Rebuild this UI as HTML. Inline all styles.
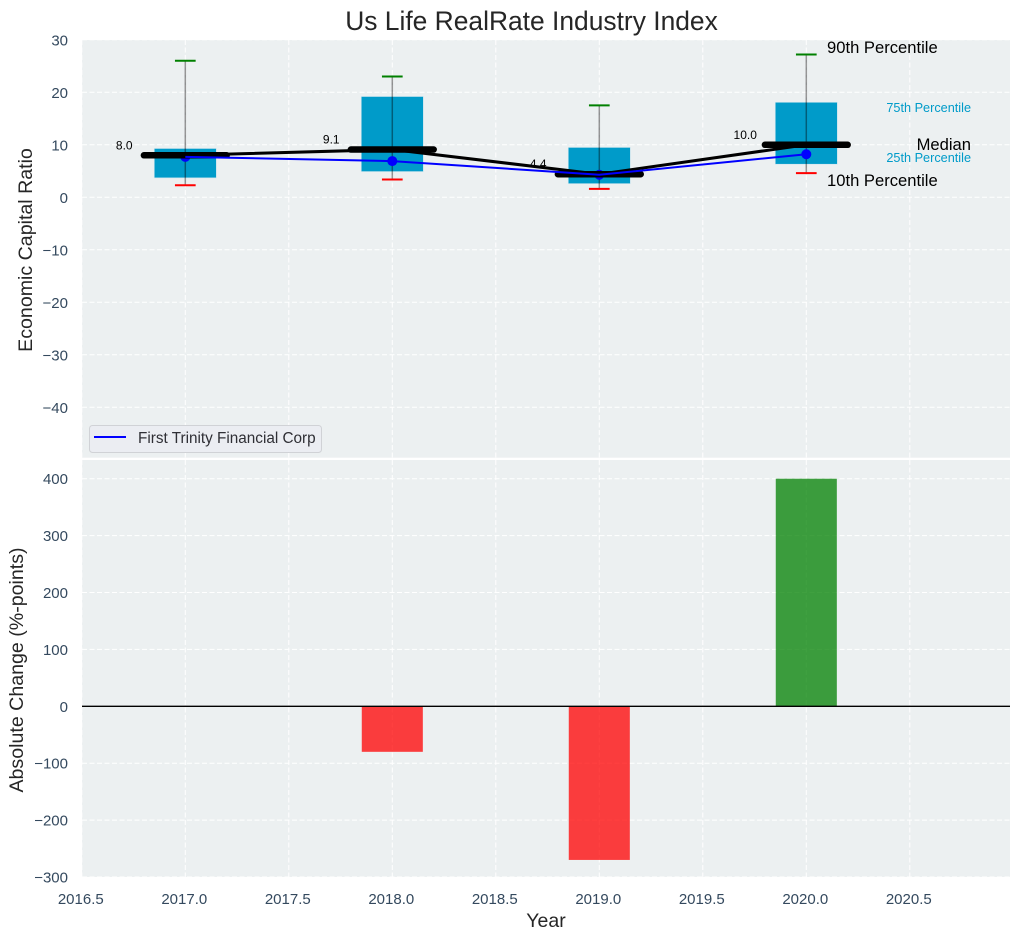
<!DOCTYPE html>
<html>
<head>
<meta charset="utf-8">
<title>Us Life RealRate Industry Index</title>
<style>
html,body{margin:0;padding:0;background:#fff;width:1021px;height:940px;overflow:hidden}
svg{display:block;font-family:"Liberation Sans",sans-serif}
</style>
</head>
<body>
<svg id="chart" xmlns="http://www.w3.org/2000/svg" width="1021" height="940" viewBox="0 0 1021 940"></svg>
<script>
const years = [2017, 2018, 2019, 2020];
const p90 = [26, 23, 17.5, 27.2];
const p75 = [9.3, 19.2, 9.5, 18.1];
const medians = [8.0, 9.1, 4.4, 10.0];
const p25 = [3.7, 4.9, 2.6, 6.3];
const p10 = [2.3, 3.4, 1.6, 4.6];
const company = [7.7, 6.9, 4.3, 8.2];
const changes = [0, -80, -270, 400];
const medianLabels = ['8.0', '9.1', '4.4', '10.0'];
const xTicks = [2016.5, 2017, 2017.5, 2018, 2018.5, 2019, 2019.5, 2020, 2020.5];
const xTickLabels = ['2016.5', '2017.0', '2017.5', '2018.0', '2018.5', '2019.0', '2019.5', '2020.0', '2020.5'];
const topTicks = [30, 20, 10, 0, -10, -20, -30, -40];
const bottomTicks = [400, 300, 200, 100, 0, -100, -200, -300];

const svg = document.getElementById('chart');
const NS = 'http://www.w3.org/2000/svg';
const L = 82, R = 1010, T1 = 40, B1 = 457.7, T2 = 460, B2 = 877;
const x = v => 185.3 + (v - 2017) * 207;
const y1 = v => 197.3 - v * 5.25;
const y2 = v => 706.3 - v * 0.569;
const minus = v => String(v).replace('-', '\u2212');

function make(tag, attrs, text) {
  const el = document.createElementNS(NS, tag);
  for (const k in attrs) el.setAttribute(k, attrs[k]);
  if (text !== undefined) el.textContent = text;
  svg.appendChild(el);
  return el;
}
function label(name, px, py, str, size, fill, anchor, extra) {
  const el = make('text', Object.assign({x: px, y: py, 'font-size': size, fill: fill, 'text-anchor': anchor || 'start'}, extra || {}), str);
  
  
  return el;
}
function line(name, a, b, c, d, stroke, width, extra) {
  const el = make('line', Object.assign({x1: a, y1: b, x2: c, y2: d, stroke: stroke, 'stroke-width': width}, extra || {}));
  
  
  return el;
}
function rect(name, a, b, w, h, fill, extra) {
  const el = make('rect', Object.assign({x: a, y: b, width: w, height: h, fill: fill}, extra || {}));
  
  
  return el;
}

const GRID = {'stroke-dasharray': '5 2.5'};
const TICK = '#34495e';

/* panels */
rect('top-panel-background', L, T1, R - L, B1 - T1, '#ecf0f1');
rect('bottom-panel-background', L, T2, R - L, B2 - T2, '#ecf0f1');

/* grid */
xTicks.forEach(t => {
  line('top-x-gridline', x(t), T1, x(t), B1, '#fff', 1, GRID);
  line('bottom-x-gridline', x(t), T2, x(t), B2, '#fff', 1, GRID);
});
topTicks.forEach(t => line('top-y-gridline', L, y1(t), R, y1(t), '#fff', 1, GRID));
bottomTicks.forEach(t => line('bottom-y-gridline', L, y2(t), R, y2(t), '#fff', 1, GRID));

/* tick labels */
topTicks.forEach(t => label('top-y-tick-label', 68, y1(t) + 5.5, minus(t), 15, TICK, 'end'));
bottomTicks.forEach(t => label('bottom-y-tick-label', 68, y2(t) + 5.5, minus(t), 15, TICK, 'end'));
xTicks.forEach((t, i) => label('x-tick-label', x(t) - 1, 904, xTickLabels[i], 15, TICK, 'middle'));

/* boxes */
years.forEach((yr, i) => {
  const bw = 0.3;
  rect('iqr-box-' + yr, x(yr - bw / 2), y1(p75[i]), bw * 207, y1(p25[i]) - y1(p75[i]), '#009bc9', {stroke: '#cfe6ee', 'stroke-width': 0.6});
  line('whisker-' + yr, x(yr), y1(p90[i]), x(yr), y1(p10[i]), '#000', 1.5, {opacity: 0.4});
  line('p90-cap-' + yr, x(yr - 0.05), y1(p90[i]), x(yr + 0.05), y1(p90[i]), '#008000', 2);
  line('p10-cap-' + yr, x(yr - 0.05), y1(p10[i]), x(yr + 0.05), y1(p10[i]), '#ff0000', 2);
});

/* company markers sit beneath the median bars */
years.forEach((yr, i) => {
  const c = make('circle', {cx: x(yr), cy: y1(company[i]), r: 5, fill: '#0000ff'});
  
  
});

/* median trend */
const medianPath = make('polyline', {
  points: years.map((yr, i) => x(yr) + ',' + y1(medians[i])).join(' '),
  fill: 'none', stroke: '#000', 'stroke-width': 3
});


years.forEach((yr, i) => {
  line('median-bar-' + yr, x(yr - 0.2), y1(medians[i]), x(yr + 0.2), y1(medians[i]), '#000', 6.5, {'stroke-linecap': 'round'});
});

/* company series */
const companyPath = make('polyline', {
  points: years.map((yr, i) => x(yr) + ',' + y1(company[i])).join(' '),
  fill: 'none', stroke: '#0000ff', 'stroke-width': 2
});



/* median value labels */
years.forEach((yr, i) => {
  label('median-value-' + yr, x(yr - 0.295), y1(medians[i]) - 6, medianLabels[i], 12, '#000', 'middle');
});

/* percentile annotations */
label('p90-annotation', 827, 53, '90th Percentile', 16.6, '#000');
label('p75-annotation', 971, 112, '75th Percentile', 12.7, '#009bc9', 'end');
label('median-annotation', 971, 150, 'Median', 16.6, '#000', 'end');
label('p25-annotation', 971, 162, '25th Percentile', 12.7, '#009bc9', 'end');
label('p10-annotation', 827, 186, '10th Percentile', 16.6, '#000');

/* legend */
rect('legend-box', 89.5, 425.5, 232, 27, '#ebedf2', {stroke: '#d0d2d6', 'stroke-width': 1, rx: 3});
line('legend-line-sample', 94, 437, 126, 437, '#0000ff', 2);
label('legend-label', 138, 443, 'First Trinity Financial Corp', 15.3, '#2f2f35');

/* change bars */
years.forEach((yr, i) => {
  if (changes[i] === 0) return;
  const bw = 0.295;
  const top = Math.min(y2(changes[i]), y2(0));
  const h = Math.abs(y2(changes[i]) - y2(0));
  const col = changes[i] < 0 ? '#ff0000' : '#008000';
  rect('change-bar-' + yr, x(yr - bw / 2), top, bw * 207, h, col, {opacity: 0.75});
});
line('zero-line', L, y2(0), R, y2(0), '#000', 1.3);

/* titles */
label('chart-title', 531.5, 30, 'Us Life RealRate Industry Index', 26.4, '#262626', 'middle');
label('x-axis-title', 546, 927, 'Year', 19.5, '#262626', 'middle');
label('top-y-axis-title', 0, 0, 'Economic Capital Ratio', 19.6, '#262626', 'middle', {transform: 'translate(32,250) rotate(-90)'});
label('bottom-y-axis-title', 0, 0, 'Absolute Change (%-points)', 19.6, '#262626', 'middle', {transform: 'translate(23,670) rotate(-90)'});
</script>
</body>
</html>
